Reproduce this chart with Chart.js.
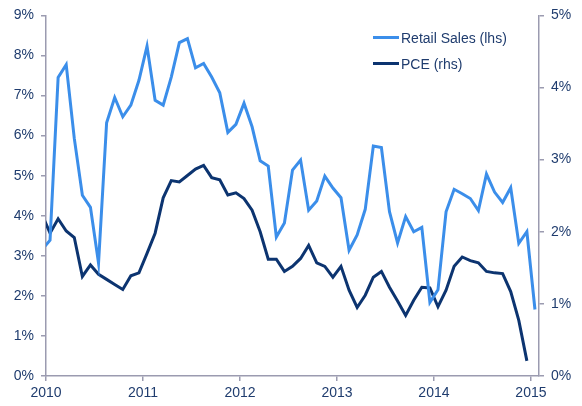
<!DOCTYPE html>
<html>
<head>
<meta charset="utf-8">
<script src="https://cdn.jsdelivr.net/npm/chart.js@4/dist/chart.umd.min.js"></script>
<style>
  html, body { margin: 0; padding: 0; background: #fff; }
  #wrap { position: relative; width: 582px; height: 406px; }
  #legend { position: absolute; left: 373px; top: 24.5px; font-family: "Liberation Sans", Arial, sans-serif; font-size: 14px; color: #1f3c6e; }
  #legend div { height: 26px; display: flex; align-items: center; }
  #legend span.line { display: inline-block; width: 26px; height: 3px; margin-right: 2px; }
</style>
</head>
<body>
<div id="wrap">
  <canvas id="chart" width="582" height="406"></canvas>
  <div id="legend"></div>
</div>
<script>
// maaneder fra dec 2009 (klippes vaek ved aksen) til jan 2015
let yearTicks = ['2010', '2011', '2012', '2013', '2014', '2015']

// Retail Sales, aar/aar i %, venstre akse (forste vaerdi er dec 2009)
let retail = [3.15,
  3.39, 7.45, 7.77, 5.93, 4.51, 4.21, 2.82, 6.32, 6.95, 6.47, 6.76, 7.38,
  8.23, 6.88, 6.76, 7.46, 8.32, 8.42, 7.69, 7.80, 7.46, 7.07, 6.08, 6.28,
  6.81, 6.22, 5.37, 5.24, 3.47, 3.82, 5.14, 5.39, 4.14, 4.37, 4.99, 4.69,
  4.45, 3.14, 3.52, 4.16, 5.74, 5.70, 4.10, 3.32, 3.98, 3.60, 3.71, 1.84,
  2.15, 4.10, 4.66, 4.55, 4.43, 4.13, 5.04, 4.59, 4.33, 4.70, 3.31, 3.60,
  1.66]

// PCE, aar/aar i %, hoejre akse (forste vaerdi er dec 2009)
let pce = [2.24,
  1.98, 2.18, 2.01, 1.92, 1.38, 1.54, 1.41, 1.34, 1.27, 1.20, 1.39, 1.43,
  1.70, 1.98, 2.47, 2.71, 2.69, 2.78, 2.87, 2.92, 2.75, 2.72, 2.51, 2.54,
  2.46, 2.30, 2.00, 1.62, 1.62, 1.45, 1.52, 1.63, 1.81, 1.57, 1.52, 1.37,
  1.52, 1.19, 0.95, 1.12, 1.37, 1.45, 1.23, 1.04, 0.84, 1.05, 1.23, 1.22,
  0.96, 1.19, 1.52, 1.65, 1.60, 1.57, 1.45, 1.43, 1.42, 1.17, 0.77, 0.21]

let labels = ['Retail Sales (lhs)', 'PCE (rhs)']
let colors = ['#3b8eea', '#0c3470']

let textColor = '#1f3c6e'
let axisColor = '#9b9bb0'

// punkterne ligger midt i maaneden, index 0 = dec 2009
const toPoints = (arr) => arr.map((v, i) => ({ x: i - 0.5, y: v }))

const axisStyle = {
  border: { display: true, color: axisColor, width: 1.5 },
  grid: { drawOnChartArea: false, drawTicks: true, tickLength: 5, color: axisColor, lineWidth: 1.5 },
  ticks: { color: textColor, font: { family: 'Liberation Sans', size: 14 } }
}

new Chart(document.getElementById('chart'), {
  type: 'line',
  data: {
    datasets: [{
      label: labels[0],
      data: toPoints(retail),
      borderColor: colors[0],
      backgroundColor: colors[0],
      borderWidth: 3,
      pointRadius: 0,
      tension: 0,
      yAxisID: 'yL'
    }, {
      label: labels[1],
      data: toPoints(pce),
      borderColor: colors[1],
      backgroundColor: colors[1],
      borderWidth: 3,
      pointRadius: 0,
      tension: 0,
      yAxisID: 'yR'
    }]
  },
  options: {
    responsive: false,
    animation: false,
    layout: { padding: { top: 15, left: 0, right: 0, bottom: 0 } },
    plugins: { legend: { display: false }, tooltip: { enabled: false } },
    scales: {
      x: {
        type: 'linear',
        min: 0,
        max: 61,
        ...axisStyle,
        ticks: {
          ...axisStyle.ticks,
          padding: 4,
          maxRotation: 0,
          autoSkip: false,
          callback: (v) => yearTicks[v / 12]
        },
        // et aarstal for hver 12. maaned
        afterBuildTicks: (s) => { s.ticks = yearTicks.map((t, i) => ({ value: i * 12 })) },
        afterFit: (s) => { s.height = 30 }
      },
      yL: {
        position: 'left',
        min: 0,
        max: 9,
        ...axisStyle,
        ticks: { ...axisStyle.ticks, stepSize: 1, padding: 7, callback: (v) => v + '%' },
        afterFit: (s) => { s.width = 46 }
      },
      yR: {
        position: 'right',
        min: 0,
        max: 5,
        ...axisStyle,
        ticks: { ...axisStyle.ticks, stepSize: 1, padding: 7, callback: (v) => v + '%' },
        afterFit: (s) => { s.width = 43 }
      }
    }
  }
})

// legenden laves som html ovenpaa grafen
labels.map((label, index) => {
  const row = document.createElement('div')
  row.innerHTML = '<span class="line" style="background:' + colors[index] + '"></span>' + label
  document.getElementById('legend').appendChild(row)
})
</script>
</body>
</html>
